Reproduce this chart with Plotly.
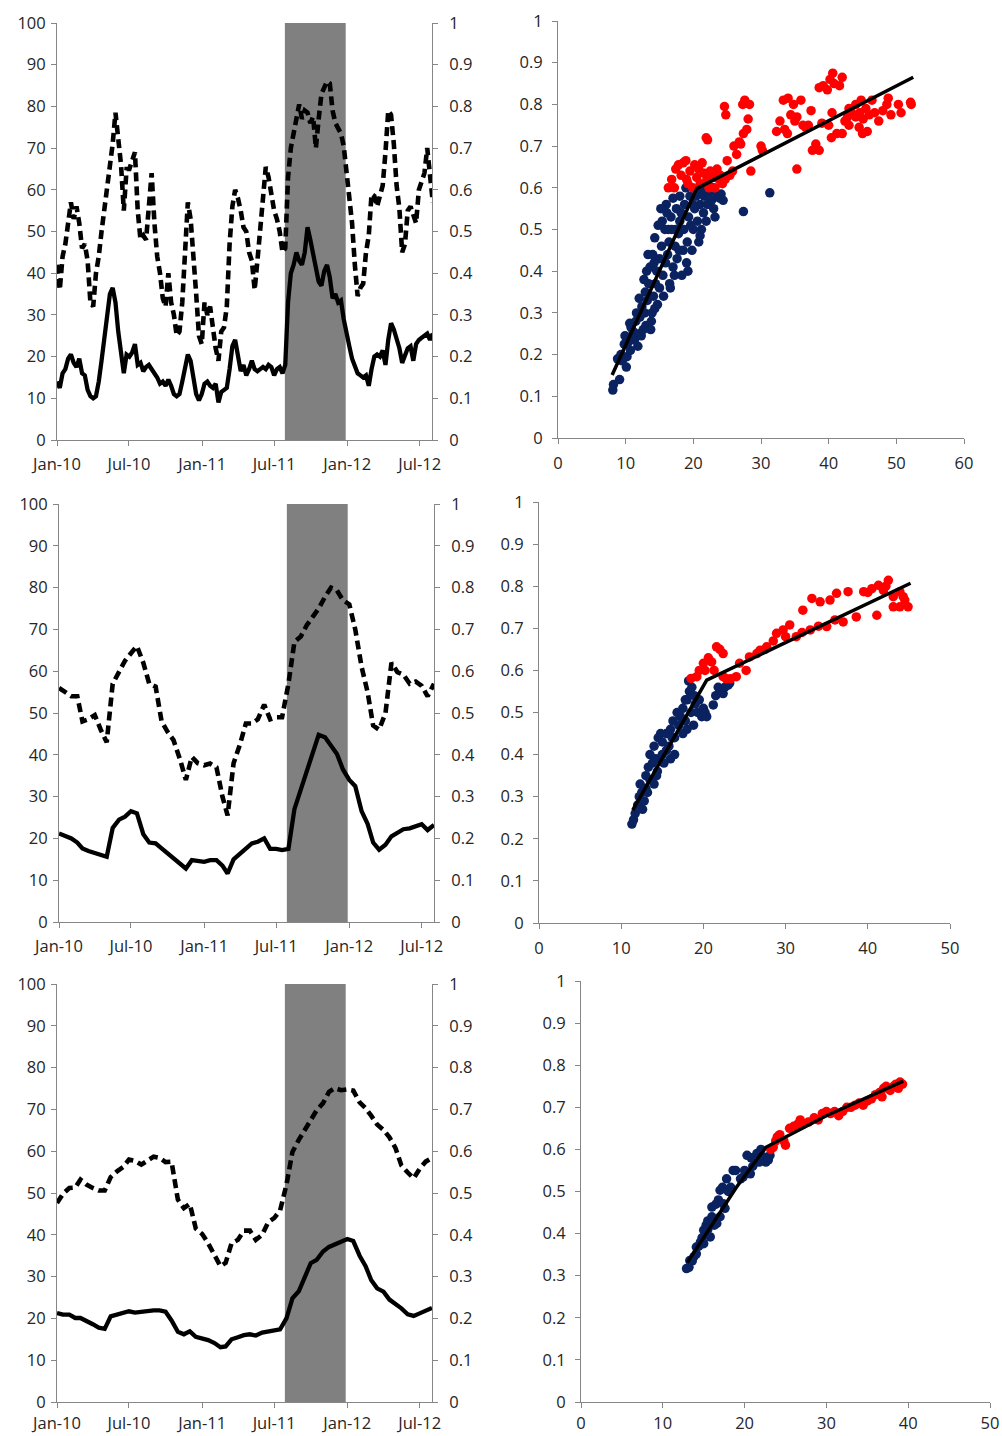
import datetime as dt
import pandas as pd
import plotly.graph_objects as go

# ---------------- DATA ----------------
# Panel 1 (weekly observations)
p1_dates = pd.date_range("2010-01-01", periods=136, freq="7D")
p1_solid = [14, 12.5, 16, 17, 19.5, 20.5, 18.5, 17.5, 19.5, 16, 15.5, 12, 10.5, 10, 10.5, 14, 19, 24, 30, 35,
            36.5, 33, 26, 20, 16, 20.5, 20, 21, 23, 18, 18.5, 16.5, 17.5, 18, 17, 16, 15, 13.5, 14, 13,
            14.5, 13, 11, 10.5, 11, 14, 18, 20.5, 19, 15, 11, 9.5, 11, 13.5, 14, 13, 12.5, 13.5, 9, 11.5,
            12, 12.5, 17, 22.5, 24, 20, 16.5, 18,
            15.5, 17, 19, 17, 16.5, 17, 17.5, 17, 18, 17.5, 15.5, 17, 17.5, 16, 18, 33, 40, 42, 45, 43,
            42, 45, 51, 48, 45, 42, 38, 37, 40.5, 42, 39, 34, 35, 33, 33.5, 29, 25, 22.5, 19.5, 17.5,
            16, 15.5, 15, 15.5, 13, 17, 20, 20.5, 20, 21.5, 18, 24, 28, 26.5, 24.5, 22, 18.5, 20.5, 22, 22.5,
            19, 23, 24, 24.5, 25, 25.5, 24, 25.5]
p1_dashed = [0.42, 0.36, 0.44, 0.47, 0.52, 0.57, 0.53, 0.56, 0.52, 0.46, 0.47, 0.43, 0.33, 0.32, 0.40, 0.44,
             0.50, 0.55, 0.61, 0.66, 0.71, 0.785, 0.72, 0.66, 0.55, 0.65, 0.65, 0.67, 0.69, 0.55, 0.48, 0.49,
             0.48, 0.56, 0.64, 0.52, 0.44, 0.40, 0.34, 0.32, 0.40, 0.33, 0.30, 0.25, 0.26, 0.33, 0.45, 0.57,
             0.53, 0.42, 0.35, 0.25, 0.23, 0.33, 0.30, 0.32, 0.26, 0.22, 0.19, 0.26, 0.27, 0.32, 0.47, 0.56,
             0.60, 0.58, 0.55, 0.51,
             0.50, 0.45, 0.43, 0.36, 0.43, 0.51, 0.60, 0.655, 0.63, 0.58, 0.55, 0.53, 0.50, 0.45, 0.46, 0.63,
             0.70, 0.735, 0.77, 0.805, 0.77, 0.79, 0.785, 0.76, 0.775, 0.70, 0.77, 0.83, 0.845, 0.86, 0.855,
             0.79, 0.76, 0.745, 0.735, 0.705, 0.65, 0.58, 0.52, 0.42, 0.345, 0.365, 0.375, 0.45, 0.49, 0.59,
             0.585, 0.56, 0.59, 0.61, 0.69, 0.79, 0.78, 0.71, 0.61, 0.555, 0.45, 0.47, 0.55, 0.56, 0.54, 0.52,
             0.60, 0.62, 0.64, 0.70, 0.63, 0.57]

# Panels 2 and 3 (semi-monthly observations: 1st and 16th of each month)
semi_dates = []
for yr in (2010, 2011, 2012):
    for mo in range(1, 13):
        if yr == 2012 and mo > 7:
            break
        semi_dates.append(dt.date(yr, mo, 1))
        semi_dates.append(dt.date(yr, mo, 16))
semi_dates.append(dt.date(2012, 8, 1))

p2_solid = [21.2, 20.6, 20, 19, 17.6, 17, 16.6, 16.2, 15.6, 22.5, 24.5, 25.2, 26.5, 26, 21, 19, 18.8, 17.6,
            16.4, 15.4, 14, 12.8, 14.8, 14.5, 14.4, 14.8, 14.8, 13.5, 11.6, 15, 16.4, 17.5, 18.8, 19.2, 20,
            17.5, 17.5, 17.2, 17.5, 27, 31.6, 36.5, 41, 44.8, 44.2, 42.3, 40.2, 36.5, 34, 32.5, 26.5, 23.5,
            19, 17.3, 18.5, 20.5, 21.5, 22.2, 22.4, 22.8, 23.4, 22, 23.2]
p2_dashed = [0.56, 0.55, 0.54, 0.54, 0.48, 0.485, 0.495, 0.46, 0.43, 0.57, 0.60, 0.625, 0.643, 0.66, 0.62,
             0.57, 0.563, 0.48, 0.455, 0.435, 0.39, 0.34, 0.395, 0.38, 0.375, 0.379, 0.37, 0.30, 0.255, 0.38,
             0.425, 0.475, 0.475, 0.485, 0.52, 0.485, 0.49, 0.49, 0.57, 0.67, 0.683, 0.71, 0.73, 0.75, 0.778,
             0.80, 0.793, 0.77, 0.76, 0.70, 0.61, 0.55, 0.47, 0.46, 0.50, 0.62, 0.598, 0.592, 0.57, 0.575,
             0.565, 0.54, 0.57]

p3_solid = [21.3, 20.9, 20.9, 20.1, 20.1, 19.5, 18.6, 17.8, 17.5, 20.5, 20.9, 21.3, 21.7, 21.4, 21.6, 21.7,
            21.9, 21.9, 21.6, 19.5, 16.8, 16.2, 16.9, 15.6, 15.2, 14.8, 14.1, 13.1, 13.3, 15, 15.5, 16, 16.2,
            15.9, 16.6, 16.9, 17, 17.4, 20, 24.8, 26.5, 30, 33.2, 34, 36, 37.1, 37.8, 38.5, 39, 38.5, 35,
            32.5, 29.2, 27.2, 26.4, 24.5, 23.5, 22.4, 21, 20.6, 21.2, 21.7, 22.5]
p3_dashed = [0.476, 0.498, 0.512, 0.513, 0.532, 0.52, 0.512, 0.506, 0.506, 0.538, 0.552, 0.562, 0.58, 0.577,
             0.568, 0.576, 0.587, 0.584, 0.574, 0.575, 0.484, 0.464, 0.474, 0.415, 0.402, 0.38, 0.353, 0.325,
             0.333, 0.38, 0.388, 0.41, 0.41, 0.388, 0.40, 0.43, 0.44, 0.458, 0.52, 0.598, 0.627, 0.652, 0.673,
             0.698, 0.715, 0.742, 0.751, 0.746, 0.748, 0.745, 0.717, 0.703, 0.685, 0.664, 0.651, 0.633, 0.608,
             0.566, 0.549, 0.535, 0.558, 0.575, 0.584]

band_start = "2011-07-28"
band_end = "2011-12-28"
date_ticks = ["2010-01-01", "2010-07-01", "2011-01-01", "2011-07-01", "2012-01-01", "2012-07-01"]
date_labels = ["Jan-10", "Jul-10", "Jan-11", "Jul-11", "Jan-12", "Jul-12"]

# Scatter panel 1
s1_blue = [(8.1, 0.115), (8.2, 0.128), (9.1, 0.14), (8.8, 0.19), (9.5, 0.185), (10.1, 0.17), (10.2, 0.195),
           (9.8, 0.225), (10.3, 0.24), (9.9, 0.245), (10.6, 0.275), (11.1, 0.255), (11.3, 0.235), (11.5, 0.28),
           (10.8, 0.265), (12.0, 0.25), (12.3, 0.245), (12.6, 0.26), (12.1, 0.29), (12.4, 0.315), (12.0, 0.335),
           (12.8, 0.3), (13.0, 0.27), (13.2, 0.33), (12.9, 0.35), (13.4, 0.37), (13.1, 0.4), (13.6, 0.41),
           (13.3, 0.44), (14.0, 0.44), (13.9, 0.3), (14.3, 0.31), (14.1, 0.34), (14.4, 0.37), (14.7, 0.32),
           (14.6, 0.4), (14.3, 0.48), (15.0, 0.36), (15.0, 0.43), (15.3, 0.46), (15.6, 0.34), (15.5, 0.39),
           (15.8, 0.5), (15.4, 0.52), (16.0, 0.56), (16.1, 0.54), (16.2, 0.44), (16.5, 0.37), (16.4, 0.47),
           (16.8, 0.5), (16.7, 0.53), (17.0, 0.575), (17.0, 0.41), (17.3, 0.46), (17.5, 0.55), (17.6, 0.43),
           (17.8, 0.49), (18.0, 0.58), (18.0, 0.52), (18.3, 0.39), (18.5, 0.45), (18.6, 0.5), (18.7, 0.56),
           (19.0, 0.42), (19.1, 0.47), (19.3, 0.53), (19.5, 0.58), (19.2, 0.4), (19.8, 0.45), (20.0, 0.5),
           (20.2, 0.55), (20.4, 0.58), (20.6, 0.52), (20.8, 0.47), (21.0, 0.56), (21.2, 0.5), (21.0, 0.485),
           (21.5, 0.54), (21.6, 0.58), (21.9, 0.52), (22.1, 0.56), (22.4, 0.59), (22.7, 0.57), (23.0, 0.55),
           (23.2, 0.53), (23.5, 0.58), (23.9, 0.575), (24.4, 0.57), (24.1, 0.585), (17.2, 0.39), (16.6, 0.36),
           (13.8, 0.28), (13.7, 0.26), (11.8, 0.22), (10.7, 0.21), (27.4, 0.543), (31.3, 0.588), (15.2, 0.55),
           (14.8, 0.51), (18.2, 0.54), (19.6, 0.51), (12.7, 0.38), (14.2, 0.42), (16.3, 0.5), (17.9, 0.45),
           (19.9, 0.56), (22.8, 0.6), (15.9, 0.42), (11.6, 0.3), (10.4, 0.23), (9.3, 0.2), (21.3, 0.6),
           (18.9, 0.6), (20.9, 0.59), (17.4, 0.5)]
s1_red = [(16.3, 0.6), (16.8, 0.62), (17.2, 0.6), (17.4, 0.645), (17.8, 0.655), (18.2, 0.63), (18.5, 0.66),
          (18.9, 0.665), (19.2, 0.61), (19.5, 0.64), (19.9, 0.6), (20.2, 0.655), (20.5, 0.625), (20.8, 0.645),
          (21.0, 0.61), (21.3, 0.66), (21.6, 0.635), (22.0, 0.62), (22.3, 0.6), (22.5, 0.64), (22.9, 0.625),
          (23.2, 0.6), (23.5, 0.645), (23.8, 0.62), (24.0, 0.63), (24.3, 0.61), (24.7, 0.62), (25.0, 0.665),
          (25.4, 0.63), (25.8, 0.64), (21.9, 0.72), (22.1, 0.715), (24.6, 0.795), (24.8, 0.775), (26.0, 0.7),
          (26.4, 0.68), (26.8, 0.71), (27.0, 0.705), (27.4, 0.73), (27.3, 0.8), (27.6, 0.81), (28.3, 0.8),
          (28.1, 0.765), (27.9, 0.74), (28.5, 0.64), (30.0, 0.7), (30.2, 0.69), (32.3, 0.735), (32.8, 0.76),
          (33.3, 0.81), (34.0, 0.815), (34.4, 0.775), (33.9, 0.73), (34.8, 0.8), (35.3, 0.77), (35.9, 0.81),
          (36.2, 0.75), (36.6, 0.745), (35.3, 0.645), (37.4, 0.785), (37.6, 0.69), (38.1, 0.705), (38.6, 0.69),
          (39.0, 0.755), (38.6, 0.84), (39.2, 0.845), (39.8, 0.835), (40.2, 0.86), (40.6, 0.875), (40.8, 0.85),
          (41.6, 0.845), (42.0, 0.865), (40.0, 0.75), (40.4, 0.72), (40.5, 0.78), (41.2, 0.73), (42.0, 0.73),
          (42.4, 0.76), (43.0, 0.75), (43.4, 0.78), (43.0, 0.79), (44.0, 0.77), (44.0, 0.8), (44.5, 0.745),
          (45.0, 0.73), (45.1, 0.765), (45.5, 0.79), (46.0, 0.775), (45.7, 0.735), (46.4, 0.81), (47.4, 0.76),
          (48.0, 0.785), (48.6, 0.8), (48.8, 0.815), (49.2, 0.775), (50.3, 0.8), (50.7, 0.78), (52.2, 0.8),
          (52.1, 0.805), (44.8, 0.81), (37.0, 0.75), (33.5, 0.74), (35.0, 0.76), (44.6, 0.78), (46.8, 0.78),
          (42.8, 0.77), (23.0, 0.63), (19.0, 0.62)]
s1_fit_x = [8.0, 20.5, 52.5]
s1_fit_y = [0.151, 0.598, 0.865]

# Scatter panel 2
s2_blue = [(11.3, 0.235), (11.5, 0.245), (11.7, 0.26), (12.0, 0.28), (12.2, 0.3), (12.5, 0.31), (12.3, 0.33),
           (13.0, 0.32), (13.0, 0.35), (13.3, 0.37), (13.5, 0.34), (13.8, 0.38), (13.5, 0.4), (14.0, 0.42),
           (14.2, 0.39), (14.5, 0.44), (14.4, 0.36), (15.0, 0.43), (15.0, 0.4), (15.2, 0.38), (15.5, 0.45),
           (15.8, 0.42), (16.0, 0.46), (16.0, 0.39), (16.3, 0.48), (16.5, 0.44), (16.8, 0.5), (17.0, 0.47),
           (17.2, 0.49), (17.5, 0.51), (17.8, 0.48), (18.0, 0.53), (18.0, 0.46), (18.3, 0.55), (18.5, 0.5),
           (18.6, 0.56), (18.8, 0.47), (19.0, 0.52), (19.3, 0.5), (19.5, 0.53), (19.8, 0.49), (20.0, 0.51),
           (20.2, 0.5), (20.4, 0.49), (21.2, 0.518), (21.5, 0.54), (21.8, 0.56), (22.0, 0.553), (22.4, 0.545),
           (22.6, 0.56), (23.0, 0.565), (23.2, 0.57), (14.3, 0.35), (16.5, 0.4), (17.5, 0.45), (12.8, 0.29),
           (14.0, 0.33), (18.2, 0.575), (14.8, 0.45), (15.5, 0.41), (16.2, 0.44), (17.0, 0.5), (17.8, 0.53),
           (18.9, 0.54), (12.6, 0.27), (13.2, 0.31)]
s2_red = [(18.5, 0.581), (19.2, 0.585), (19.5, 0.6), (20.0, 0.617), (20.2, 0.6), (20.6, 0.63), (21.0, 0.62),
          (21.3, 0.6), (21.6, 0.656), (22.0, 0.65), (22.4, 0.64), (22.4, 0.585), (22.8, 0.58), (23.3, 0.58),
          (24.0, 0.585), (24.4, 0.617), (25.2, 0.6), (25.6, 0.632), (26.5, 0.64), (26.9, 0.648), (27.7, 0.656),
          (28.9, 0.688), (29.7, 0.696), (30.5, 0.708), (31.3, 0.68), (32.1, 0.743), (33.2, 0.771),
          (34.2, 0.763), (35.4, 0.767), (36.2, 0.783), (37.6, 0.787), (39.5, 0.787), (40.5, 0.794),
          (41.3, 0.802), (42.5, 0.814), (41.9, 0.79), (43.1, 0.775), (43.9, 0.787), (44.5, 0.767),
          (44.9, 0.751), (43.1, 0.751), (41.1, 0.731), (38.6, 0.727), (37.0, 0.715), (35.0, 0.704),
          (33.0, 0.696), (43.9, 0.751), (44.3, 0.775), (34.0, 0.705), (36.0, 0.72), (32.0, 0.69),
          (30.0, 0.68), (40.0, 0.785), (42.2, 0.8), (27.5, 0.65), (28.5, 0.67)]
s2_fit_x = [11.4, 20.4, 45.2]
s2_fit_y = [0.268, 0.577, 0.807]

# Scatter panel 3
s3_blue = [(12.9, 0.317), (13.2, 0.32), (13.3, 0.336), (13.6, 0.335), (13.8, 0.345), (14.1, 0.368),
           (14.1, 0.352), (14.4, 0.37), (14.6, 0.38), (14.8, 0.39), (15.0, 0.408), (15.0, 0.376), (15.3, 0.42),
           (15.5, 0.41), (15.5, 0.43), (15.8, 0.424), (15.8, 0.392), (16.0, 0.463), (16.0, 0.44), (16.3, 0.42),
           (16.6, 0.424), (16.5, 0.47), (16.8, 0.48), (17.0, 0.503), (17.0, 0.44), (17.4, 0.471), (17.3, 0.51),
           (17.8, 0.53), (17.6, 0.46), (18.0, 0.5), (18.3, 0.51), (18.6, 0.55), (18.9, 0.55), (19.5, 0.53),
           (19.8, 0.534), (20.0, 0.55), (20.3, 0.586), (20.7, 0.542), (20.8, 0.58), (21.0, 0.56), (21.5, 0.59),
           (21.8, 0.57), (22.0, 0.6), (22.3, 0.582), (22.6, 0.57), (23.1, 0.586), (22.9, 0.575)]
s3_red = [(23.2, 0.6), (23.5, 0.605), (23.8, 0.62), (24.0, 0.63), (24.3, 0.635), (24.8, 0.62), (25.0, 0.61),
          (25.5, 0.65), (26.0, 0.655), (26.5, 0.66), (26.8, 0.67), (27.2, 0.66), (27.8, 0.665), (28.5, 0.675),
          (29.0, 0.67), (29.5, 0.685), (30.0, 0.69), (30.5, 0.685), (31.0, 0.69), (31.5, 0.68), (32.0, 0.69),
          (32.5, 0.7), (33.0, 0.7), (33.5, 0.705), (34.0, 0.71), (34.5, 0.705), (35.0, 0.715), (35.5, 0.72),
          (36.0, 0.73), (36.5, 0.735), (37.0, 0.745), (37.3, 0.75), (37.8, 0.74), (38.2, 0.75), (38.5, 0.755),
          (39.0, 0.76), (39.3, 0.755), (38.8, 0.745), (36.8, 0.725)]
s3_fit_x = [13.0, 16.0, 19.0, 22.6, 30.0, 39.4]
s3_fit_y = [0.331, 0.42, 0.51, 0.605, 0.68, 0.762]

# ---------------- FIGURE ----------------
W, H = 1002, 1436
BLUE = "#0B2260"
RED = "#FF0000"
AXC = "#868686"
FONT = dict(family="Open Sans, Lato, sans-serif", size=16.5, color="#262626")


def px_x(a, b):
    return [a / W, b / W]


def px_y(top, bottom):
    return [1 - bottom / H, 1 - top / H]


fig = go.Figure()

panels = [
    ("x", "y", "y2", px_x(57, 432), px_y(23, 440), p1_dates, p1_solid, p1_dashed, 4),
    ("x3", "y4", "y5", px_x(59, 434), px_y(504, 922), semi_dates, p2_solid, p2_dashed, 4),
    ("x5", "y7", "y8", px_x(57, 432), px_y(984, 1402), semi_dates, p3_solid, p3_dashed, 1),
]
scatters = [
    ("x2", "y3", px_x(558, 964), px_y(21, 438), 60, s1_blue, s1_red, s1_fit_x, s1_fit_y, 5),
    ("x4", "y6", px_x(539, 950), px_y(502, 923), 50, s2_blue, s2_red, s2_fit_x, s2_fit_y, 5),
    ("x6", "y9", px_x(581, 990), px_y(981, 1402), 50, s3_blue, s3_red, s3_fit_x, s3_fit_y, 1),
]

axis_common = dict(showline=True, linecolor=AXC, linewidth=1, ticks="outside", ticklen=5,
                   tickcolor=AXC, showgrid=False, zeroline=False, tickfont=FONT, fixedrange=True,
                   automargin=False)

layout = dict(width=W, height=H, margin=dict(l=0, r=0, t=0, b=0, autoexpand=False),
              paper_bgcolor="white", plot_bgcolor="white", showlegend=False, font=FONT, shapes=[])


def key(axid):
    return axid[0] + "axis" + axid[1:]


for xa, yl, yr, xd, yd, dates, solid, dashed, xs in panels:
    layout[key(xa)] = dict(axis_common, domain=xd, anchor=yl, type="date",
                           range=["2010-01-01", "2012-08-01"], tickvals=date_ticks, ticktext=date_labels,
                           ticklabelstandoff=xs)
    layout[key(yl)] = dict(axis_common, domain=yd, anchor=xa, range=[0, 100], dtick=10, tick0=0,
                           ticklabelstandoff=2)
    layout[key(yr)] = dict(axis_common, domain=yd, anchor=xa, overlaying=yl, side="right",
                           range=[0, 1], dtick=0.1, tick0=0, ticklabelstandoff=8)
    layout["shapes"].append(dict(type="rect", xref=xa, yref=yl, x0=band_start, x1=band_end, y0=0, y1=100,
                                 fillcolor="#808080", line=dict(width=0), layer="below"))
    fig.add_trace(go.Scatter(x=list(dates), y=solid, mode="lines", xaxis=xa, yaxis=yl,
                             line=dict(color="black", width=4.3), hoverinfo="skip"))
    fig.add_trace(go.Scatter(x=list(dates), y=dashed, mode="lines", xaxis=xa, yaxis=yr,
                             line=dict(color="black", width=4.6, dash="9px,5px"), hoverinfo="skip"))

for xa, ya, xd, yd, xmax, blue, red, fx, fy, xs in scatters:
    layout[key(xa)] = dict(axis_common, domain=xd, anchor=ya, range=[0, xmax], dtick=10, tick0=0,
                           ticklabelstandoff=xs)
    layout[key(ya)] = dict(axis_common, domain=yd, anchor=xa, range=[0, 1], dtick=0.1, tick0=0,
                           ticklabelstandoff=6)
    fig.add_trace(go.Scatter(x=[p[0] for p in blue], y=[p[1] for p in blue], mode="markers",
                             xaxis=xa, yaxis=ya, marker=dict(color=BLUE, size=9.5, line=dict(width=0)),
                             cliponaxis=False, hoverinfo="skip"))
    fig.add_trace(go.Scatter(x=[p[0] for p in red], y=[p[1] for p in red], mode="markers",
                             xaxis=xa, yaxis=ya, marker=dict(color=RED, size=9.5, line=dict(width=0)),
                             cliponaxis=False, hoverinfo="skip"))
    fig.add_trace(go.Scatter(x=fx, y=fy, mode="lines", xaxis=xa, yaxis=ya,
                             line=dict(color="black", width=3.5), hoverinfo="skip"))

fig.update_layout(**layout)
fig.write_html("out.html", config={"displayModeBar": False},
               post_script="document.body.style.margin='0px';document.body.style.overflow='hidden';")
